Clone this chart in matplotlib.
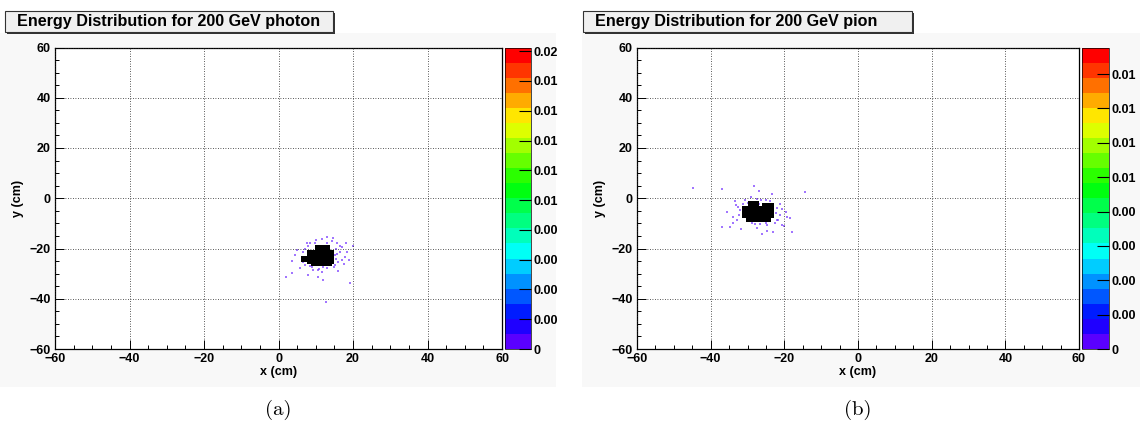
"""Energy distribution maps for a 200 GeV photon and a 200 GeV pion (ROOT-style COLZ look)."""
import matplotlib
matplotlib.use("Agg")
import matplotlib.pyplot as plt
import numpy as np
from matplotlib.colors import ListedColormap, Normalize
from matplotlib.patches import Rectangle
from matplotlib.ticker import MultipleLocator
import matplotlib.cm as cm

W, H = 1140, 430

TITLES = ["Energy Distribution for 200 GeV photon", "Energy Distribution for 200 GeV pion"]
CAPTIONS = ["(a)", "(b)"]

# dense core of the shower: rectangles (x0, x1, y0, y1) in cm
core_a = [(9.8, 13.8, -20.5, -18.6), (7.6, 14.9, -26.0, -20.5), (8.6, 14.4, -27.0, -26.0),
          (6.0, 7.6, -25.3, -22.9)]
core_b = [(-30.0, -27.0, -3.0, -1.2), (-26.0, -22.8, -3.0, -2.0), (-31.6, -22.8, -8.0, -3.0),
          (-30.5, -23.5, -9.4, -8.0)]

# sparse low-energy hits (x, y) in cm
hits_a_x = [7.6, 8.5, 11.6, 14.3, 15.6, 18.0, 17.0, 18.5, 16.5, 17.9, 18.8, 17.0, 16.1, 15.2,
            13.4, 12.0, 10.7, 9.3, 8.5, 6.7, 5.8, 3.5, 3.5, 10.7, 11.6, 19.2, 15.2, 12.9, 9.8,
            2.0, 20.0, 12.8, 16.0, 5.0,
            7.0, 8.0, 15.5, 15.8, 15.5, 14.8, 13.0, 11.0, 9.0, 7.2, 6.5, 16.5, 14.5, 13.0,
            10.0, 17.5, 12.0, 8.0, 4.5]
hits_a_y = [-18.0, -18.0, -16.4, -17.0, -18.0, -17.7, -19.6, -21.3, -21.3, -23.3, -24.6, -24.6,
            -25.3, -26.6, -26.2, -27.3, -28.6, -28.6, -27.0, -25.3, -27.9, -24.9, -29.9, -31.3,
            -29.5, -33.9, -22.6, -18.0, -18.0, -31.5, -19.0, -41.3, -29.0, -20.5,
            -20.0, -19.2, -20.0, -22.0, -24.0, -27.5, -27.8, -28.0, -27.5, -26.5, -21.5, -19.0,
            -16.0, -15.5, -16.8, -26.0, -32.5, -30.5, -22.5]
hits_b_x = [-37.0, -28.2, -26.8, -23.4, -14.4, -27.5, -30.7, -32.0, -31.1, -21.2, -20.7, -21.2,
            -21.6, -19.4, -18.5, -18.0, -22.5, -24.8, -26.6, -28.9, -29.8, -26.1, -31.8, -34.7,
            -37.0, -33.9, -23.0, -24.6, -26.9, -26.3, -44.8, -20.0, -33.0, -35.5,
            -32.5, -32.3, -32.8, -22.0, -22.2, -22.0, -25.0, -28.0, -30.0, -25.0, -24.0, -29.0,
            -33.5, -19.5, -34.0, -20.5, -27.5]
hits_b_y = [3.5, 4.8, 2.9, 1.6, 2.5, -0.1, -0.5, -4.8, -2.1, -2.1, -4.1, -6.7, -8.7, -7.4, -7.7,
            -13.4, -9.8, -10.7, -10.3, -9.8, -8.7, -14.3, -12.4, -11.4, -11.6, -7.4, -13.4, -13.1,
            -2.1, -0.8, 4.0, -11.0, -2.5, -5.5,
            -3.5, -6.5, -8.5, -4.0, -6.0, -8.5, -9.8, -10.2, -1.8, -0.5, -1.0, 0.5, -1.0, -5.5,
            -10.0, -10.5, -12.0]

# colour scale: maximum and labelled ticks (ROOT-style rounded labels)
zmax_a, zstep_a = 0.0162, 0.0016
zmax_b, zstep_b = 0.01053, 0.0012
zlabels_a = ["0", "0.00", "0.00", "0.00", "0.00", "0.01", "0.01", "0.01", "0.01", "0.01", "0.02"]
zlabels_b = ["0", "0.00", "0.00", "0.00", "0.00", "0.01", "0.01", "0.01", "0.01"]

PALETTE = ListedColormap(plt.cm.hsv(np.linspace(0.735, 0.0, 20)))
FONT = ["Liberation Sans", "DejaVu Sans"]
TICK_FS = 9


def px_box(x0, y0, x1, y1):
    return [x0 / W, 1 - y1 / H, (x1 - x0) / W, (y1 - y0) / H]


def panel(fig, i, ax_px, cb_px, pad_px, title_px, core, hx, hy, zmax, zstep, zlabels):
    # light pad background
    x0, y0, x1, y1 = pad_px
    fig.patches.append(Rectangle((x0 / W, 1 - y1 / H), (x1 - x0) / W, (y1 - y0) / H,
                                 transform=fig.transFigure, facecolor="#f8f8f8",
                                 edgecolor="none", zorder=-5))
    ax = fig.add_axes(px_box(*ax_px))
    ax.set_facecolor("white")
    ax.set_xlim(-60, 60); ax.set_ylim(-60, 60)
    for (a, b, c, d) in core:
        ax.fill([a, b, b, a], [c, c, d, d], color="black", lw=0, zorder=3)
    ax.scatter(hx, hy, s=3.2, marker="s", color="#7a3cff", alpha=0.7, lw=0, zorder=2)
    ax.xaxis.set_major_locator(MultipleLocator(20)); ax.xaxis.set_minor_locator(MultipleLocator(5))
    ax.yaxis.set_major_locator(MultipleLocator(20)); ax.yaxis.set_minor_locator(MultipleLocator(5))
    ax.tick_params(which="major", direction="in", length=6.5, width=0.7, pad=3)
    ax.tick_params(which="minor", direction="in", length=3.2, width=0.7)
    ax.grid(True, which="major", color="#222222", linestyle=(0, (1, 2)), lw=0.6)
    ax.set_axisbelow(False)
    for lab in ax.get_xticklabels() + ax.get_yticklabels():
        lab.set_fontfamily(FONT); lab.set_fontweight("bold"); lab.set_fontsize(TICK_FS)
    for sp in ax.spines.values():
        sp.set_linewidth(0.9)

    # colour bar
    cax = fig.add_axes(px_box(*cb_px))
    sm = cm.ScalarMappable(norm=Normalize(0, zmax), cmap=PALETTE)
    cb = fig.colorbar(sm, cax=cax)
    cb.outline.set_linewidth(0.5)
    cb.set_ticks([zstep * k for k in range(len(zlabels))])
    cb.set_ticklabels(zlabels)
    cax.tick_params(direction="in", length=9, width=0.8, pad=2)
    for lab in cax.get_yticklabels():
        lab.set_fontfamily(FONT); lab.set_fontweight("bold"); lab.set_fontsize(TICK_FS)

    # axis titles
    cx = (ax_px[0] + ax_px[2]) / 2
    fig.text(cx / W, 1 - 372.5 / H, "x (cm)", ha="center", va="center", family=FONT,
             weight="bold", fontsize=TICK_FS)
    fig.text((ax_px[0] - 37) / W, 1 - 198 / H, "y (cm)", ha="center", va="center",
             rotation=90, family=FONT, weight="bold", fontsize=TICK_FS)

    # title pave with shadow
    tx0, ty0, tx1, ty1 = title_px
    fig.patches.append(Rectangle(((tx0 + 2) / W, 1 - (ty1 + 2) / H), (tx1 - tx0) / W,
                                 (ty1 - ty0) / H, transform=fig.transFigure,
                                 facecolor="#333333", edgecolor="none", zorder=4))
    fig.patches.append(Rectangle((tx0 / W, 1 - ty1 / H), (tx1 - tx0) / W, (ty1 - ty0) / H,
                                 transform=fig.transFigure, facecolor="#f0f0f0",
                                 edgecolor="#333333", lw=0.8, zorder=5))
    fig.text((tx0 + 12) / W, 1 - (ty0 + ty1) / 2 / H, TITLES[i], ha="left", va="center",
             family=FONT, weight="bold", fontsize=11.6, zorder=6)

    # sub-figure caption
    fig.text(cx / W, 1 - 410 / H, CAPTIONS[i], ha="center", va="center",
             family=["cmr10", "DejaVu Serif"], fontsize=15)
    return ax


def main():
    fig = plt.figure(figsize=(W / 100, H / 100), dpi=100)
    panel(fig, 0, (55, 47.5, 502, 349), (505, 47.5, 531, 349), (0, 33, 556, 387),
          (5, 11, 333, 32), core_a, hits_a_x, hits_a_y, zmax_a, zstep_a, zlabels_a)
    panel(fig, 1, (637, 47.5, 1079, 349), (1082, 47.5, 1109, 349), (582, 33, 1140, 387),
          (583, 11, 912, 32), core_b, hits_b_x, hits_b_y, zmax_b, zstep_b, zlabels_b)
    fig.savefig("out.png", dpi=100, facecolor="white")
    plt.close(fig)


if __name__ == "__main__":
    main()
